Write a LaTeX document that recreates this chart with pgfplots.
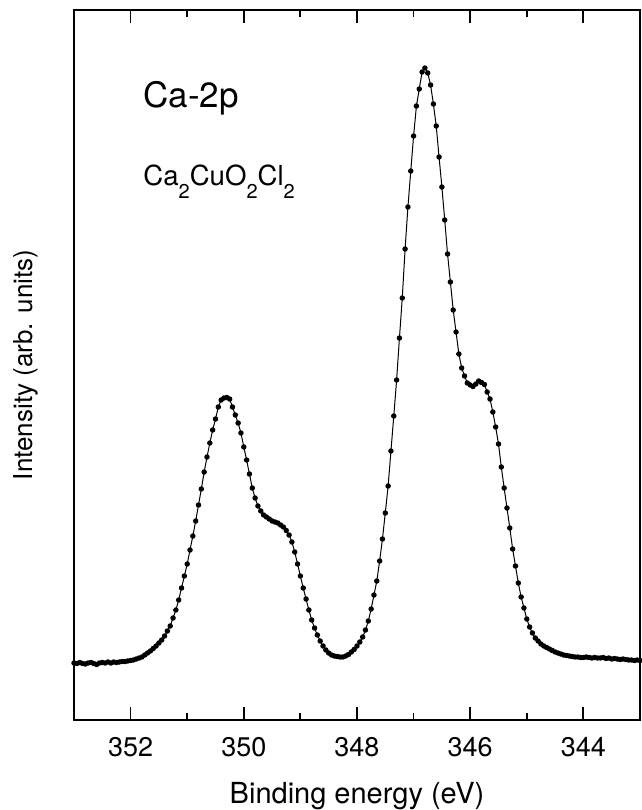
\documentclass[border=0pt]{standalone}
\usepackage{fontspec}
\setmainfont{TeX Gyre Heros}
\usepackage{pgfplots}
\usepackage{pgfplotstable}
\pgfplotsset{compat=1.18}
\pgfplotstableread{
E I
353.00 57
352.95 56.5
352.90 57.5
352.85 56.5
352.80 56
352.75 57
352.70 57.5
352.65 56.5
352.60 55.5
352.55 57
352.50 57.5
352.45 57
352.40 58
352.35 57
352.30 58
352.25 57.5
352.20 58
352.15 58.5
352.10 58.5
352.05 59
352.00 59.5
351.95 60
351.90 61
351.85 62
351.80 63
351.75 65
351.70 67
351.65 69
351.60 71.5
351.55 74
351.50 77
351.45 80
351.40 84
351.35 89
351.30 94
351.25 102
351.20 110
351.15 120
351.10 132
351.05 144
351.00 156
350.95 170
350.90 184
350.85 199
350.80 215
350.75 231
350.70 248
350.65 263
350.60 277
350.55 290
350.50 301
350.45 313
350.40 320
350.35 322
350.30 322.5
350.25 321
350.20 313
350.15 305
350.10 297
350.05 287
350.00 273
349.95 260
349.90 246
349.85 232
349.80 222
349.75 214
349.70 209
349.65 205
349.60 203
349.55 201
349.50 199
349.45 198
349.40 197
349.35 195
349.30 193
349.25 189.5
349.20 185
349.15 178
349.10 168
349.05 156
349.00 144
348.95 132
348.90 121
348.85 110
348.80 100
348.75 92
348.70 85
348.65 79
348.60 74
348.55 70
348.50 67
348.45 65
348.40 64
348.35 63.5
348.30 63
348.25 63
348.20 64
348.15 65.5
348.10 68
348.05 70.5
348.00 74
347.95 78
347.90 83
347.85 90
347.80 99
347.75 111
347.70 125
347.65 139
347.60 159
347.55 181
347.50 207
347.45 234
347.40 269
347.35 304
347.30 340
347.25 382
347.20 422
347.15 471
347.10 513
347.05 549
347.00 584
346.95 614
346.90 631
346.85 648
346.80 652
346.75 647
346.70 635
346.65 616
346.60 594
346.55 563
346.50 533
346.45 500
346.40 466
346.35 438
346.30 410
346.25 388
346.20 366
346.15 352
346.10 344
346.05 337
346.00 335
345.95 333.5
345.90 336
345.85 339
345.80 337.5
345.75 335.5
345.70 328
345.65 321
345.60 308
345.55 293
345.50 276
345.45 253
345.40 232
345.35 212
345.30 192
345.25 171
345.20 154
345.15 137
345.10 123
345.05 112
345.00 101
344.95 93
344.90 87
344.85 82
344.80 79
344.75 76
344.70 74
344.65 72.5
344.60 71
344.55 69.5
344.50 68
344.45 67
344.40 66
344.35 65
344.30 64.5
344.25 64
344.20 63.5
344.15 63
344.10 63
344.05 62.5
344.00 62.5
343.95 63
343.90 62.5
343.85 62
343.80 62.5
343.75 62
343.70 62
343.65 62.5
343.60 61.5
343.55 62
343.50 61
343.45 61.5
343.40 61
343.35 60.5
343.30 61
343.25 60.5
343.20 60
343.15 60
343.10 59.5
343.05 60
343.00 59.5
}\spectrum
\begin{document}
\begin{tikzpicture}
\path[use as bounding box] (-37pt,-45pt) rectangle (284pt,360pt);
\begin{axis}[
  at={(0,0)}, anchor=south west,
  scale only axis,
  width=283pt, height=355pt,
  x dir=reverse,
  xmin=343, xmax=353,
  ymin=0, ymax=710,
  xtick={344,346,348,350,352},
  minor x tick num=1,
  ytick=\empty,
  tick align=inside,
  xtick pos=both,
  major tick length=6.5pt,
  minor tick length=3.5pt,
  axis line style={line width=1pt},
  every tick/.style={black, line width=0.9pt},
  /pgf/number format/assume math mode=true,
  /pgf/number format/1000 sep={},
  xticklabel style={font=\fontsize{13.5}{15}\selectfont, anchor=base, yshift=-18.3pt},
  xlabel={Binding energy (eV)},
  xlabel style={font=\fontsize{14.5}{16}\selectfont, at={(axis description cs:0.5,0)}, anchor=base, yshift=-41.7pt},
  ylabel={Intensity (arb. units)},
  ylabel style={font=\fontsize{13}{15}\selectfont, at={(axis description cs:-0.0848,0.5)}, anchor=center, rotate=0},
  clip=false,
]
\addplot[black, line width=0.5pt, mark=*, mark size=1.1pt, mark options={solid, fill=black}] table[x=E, y=I] {\spectrum};
\node[anchor=base west, inner sep=0pt, font=\fontsize{17.5}{19}\selectfont] at (axis description cs:0.1219,0.862) {Ca-2p};
\node[anchor=base west, inner sep=0pt, font=\fontsize{13.8}{15}\selectfont] at (axis description cs:0.1219,0.7535) {Ca\raisebox{-6.5pt}{\fontsize{10}{10}\selectfont 2}CuO\raisebox{-6.5pt}{\fontsize{10}{10}\selectfont 2}Cl\raisebox{-6.5pt}{\fontsize{10}{10}\selectfont 2}};
\end{axis}
\end{tikzpicture}
\end{document}
